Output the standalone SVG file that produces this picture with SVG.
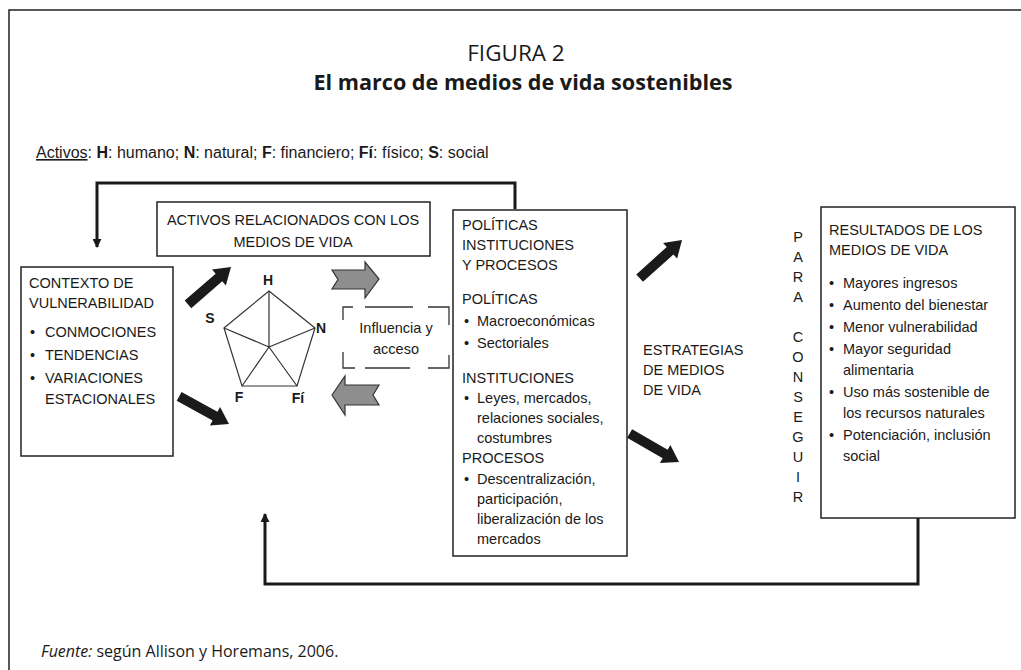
<svg xmlns="http://www.w3.org/2000/svg" width="1021" height="670" viewBox="0 0 1021 670">
<style>
  text { font-family: "Liberation Sans", Arial, sans-serif; font-size: 14.5px; fill: #1a1a1a; }
  .t1 { font-family: "Open Sans", "Liberation Sans", sans-serif; font-size: 22.5px; }
  .t2 { font-family: "Open Sans", "Liberation Sans", sans-serif; font-size: 21.6px; font-weight: bold; }
  .leg { font-size: 16px; }
  .src { font-family: "Open Sans", "Liberation Sans", sans-serif; font-size: 16px; }
  .box { fill: #fff; stroke: #222; stroke-width: 1.5; }
  .pent { fill: none; stroke: #333; stroke-width: 1.2; }
  .lbl { font-weight: bold; font-size: 14px; }
  .conn { fill: none; stroke: #1a1a1a; stroke-width: 3; }
  .blk { fill: #1a1a1a; }
  .gray { fill: #8e8e8e; stroke: #333; stroke-width: 1.2; }
  .dash { fill: none; stroke: #333; stroke-width: 1.3; }
  .mid { text-anchor: middle; }
</style>
<defs>
  <marker id="ah" viewBox="0 0 10 10" refX="9" refY="5" markerWidth="3" markerHeight="3" orient="auto">
    <path d="M0,0 L10,5 L0,10 z" fill="#1a1a1a"/>
  </marker>
  <polygon id="bigArrow" points="-57,-5 -16,-5 -16,-10.5 0,0 -16,10.5 -16,5 -57,5"/>
</defs>

<rect width="1021" height="670" fill="#fff"/>
<path d="M1021,10 H9 V670" fill="none" stroke="#222" stroke-width="1.5"/>

<g id="title">
  <text class="t1 mid" x="516" y="61">FIGURA 2</text>
  <text class="t2 mid" x="523" y="90">El marco de medios de vida sostenibles</text>
</g>

<g id="legend">
  <text class="leg" x="36" y="158"><tspan text-decoration="underline">Activos</tspan>: <tspan font-weight="bold">H</tspan>: humano; <tspan font-weight="bold">N</tspan>: natural; <tspan font-weight="bold">F</tspan>: financiero; <tspan font-weight="bold">Fí</tspan>: físico; <tspan font-weight="bold">S</tspan>: social</text>
</g>

<g id="connectors">
  <path class="conn" d="M515,209 V183 H97 V247" marker-end="url(#ah)"/>
  <path class="conn" d="M918,518 V584 H265 V514" marker-end="url(#ah)"/>
  <use href="#bigArrow" class="blk" transform="translate(231,267) rotate(-41)"/>
  <use href="#bigArrow" class="blk" transform="translate(229,424) rotate(29)"/>
  <use href="#bigArrow" class="blk" transform="translate(682,240) rotate(-42)"/>
  <use href="#bigArrow" class="blk" transform="translate(679,462) rotate(30)"/>
  <polygon class="gray" points="332,270 365,270 365,262 379,279 365,298 365,289 332,289 338,279.5"/>
  <polygon class="gray" points="332,395 345,376 345,385 379,385 373,395 379,405 345,405 345,415"/>
</g>

<g id="contexto">
  <rect class="box" x="21" y="267" width="152" height="189"/>
  <text x="29" y="288">CONTEXTO DE</text>
  <text x="29" y="308">VULNERABILIDAD</text>
  <text x="30" y="337">•</text><text x="45" y="337">CONMOCIONES</text>
  <text x="30" y="360">•</text><text x="45" y="360">TENDENCIAS</text>
  <text x="30" y="383">•</text><text x="45" y="383">VARIACIONES</text>
  <text x="45" y="404">ESTACIONALES</text>
</g>

<g id="activos">
  <rect class="box" x="157" y="202" width="273" height="54"/>
  <text class="mid" x="293" y="225">ACTIVOS RELACIONADOS CON LOS</text>
  <text class="mid" x="293" y="247">MEDIOS DE VIDA</text>
</g>

<g id="pentagono">
  <polygon class="pent" points="269,291 315,328 297,386 242,386 224,328"/>
  <path class="pent" d="M269,347 L269,291 M269,347 L315,328 M269,347 L297,386 M269,347 L242,386 M269,347 L224,328"/>
  <text class="lbl mid" x="268" y="285">H</text>
  <text class="lbl mid" x="210" y="323">S</text>
  <text class="lbl" x="316" y="333">N</text>
  <text class="lbl mid" x="239" y="402">F</text>
  <text class="lbl mid" x="298" y="403">Fí</text>
</g>

<g id="influencia">
  <path class="dash" d="M343,320 V307 H353 M365,307 H413 M428,307 H449 V325 M449,355 V368 H428 M410,368 H365 M355,368 H343 V352"/>
  <text class="mid" x="396" y="333">Influencia y</text>
  <text class="mid" x="396" y="354">acceso</text>
</g>

<g id="politicas">
  <rect class="box" x="453" y="210" width="174" height="346"/>
  <text x="462" y="230">POLÍTICAS</text>
  <text x="462" y="250">INSTITUCIONES</text>
  <text x="462" y="270">Y PROCESOS</text>
  <text x="462" y="304">POLÍTICAS</text>
  <text x="464" y="326">•</text><text x="477" y="326">Macroeconómicas</text>
  <text x="464" y="348">•</text><text x="477" y="348">Sectoriales</text>
  <text x="462" y="383">INSTITUCIONES</text>
  <text x="464" y="403">•</text><text x="477" y="403">Leyes, mercados,</text>
  <text x="477" y="423">relaciones sociales,</text>
  <text x="477" y="443">costumbres</text>
  <text x="462" y="463">PROCESOS</text>
  <text x="464" y="484">•</text><text x="477" y="484">Descentralización,</text>
  <text x="477" y="504">participación,</text>
  <text x="477" y="524">liberalización de los</text>
  <text x="477" y="544">mercados</text>
</g>

<g id="estrategias">
  <text x="643" y="355">ESTRATEGIAS</text>
  <text x="643" y="375">DE MEDIOS</text>
  <text x="643" y="395">DE VIDA</text>
</g>

<g id="para-conseguir">
  <text class="mid" x="798" y="242">P</text>
  <text class="mid" x="798" y="262">A</text>
  <text class="mid" x="798" y="282">R</text>
  <text class="mid" x="798" y="302">A</text>
  <text class="mid" x="798" y="342">C</text>
  <text class="mid" x="798" y="362">O</text>
  <text class="mid" x="798" y="382">N</text>
  <text class="mid" x="798" y="402">S</text>
  <text class="mid" x="798" y="422">E</text>
  <text class="mid" x="798" y="442">G</text>
  <text class="mid" x="798" y="462">U</text>
  <text class="mid" x="798" y="482">I</text>
  <text class="mid" x="798" y="502">R</text>
</g>

<g id="resultados">
  <rect class="box" x="821" y="207" width="194" height="311"/>
  <text x="829" y="235">RESULTADOS DE LOS</text>
  <text x="829" y="255">MEDIOS DE VIDA</text>
  <text x="829" y="288">•</text><text x="843" y="288">Mayores ingresos</text>
  <text x="829" y="310">•</text><text x="843" y="310">Aumento del bienestar</text>
  <text x="829" y="332">•</text><text x="843" y="332">Menor vulnerabilidad</text>
  <text x="829" y="354">•</text><text x="843" y="354">Mayor seguridad</text>
  <text x="843" y="375">alimentaria</text>
  <text x="829" y="397">•</text><text x="843" y="397">Uso más sostenible de</text>
  <text x="843" y="418">los recursos naturales</text>
  <text x="829" y="440">•</text><text x="843" y="440">Potenciación, inclusión</text>
  <text x="843" y="461">social</text>
</g>

<g id="fuente">
  <text class="src" x="41" y="657"><tspan font-style="italic">Fuente:</tspan> según Allison y Horemans, 2006.</text>
</g>
</svg>
